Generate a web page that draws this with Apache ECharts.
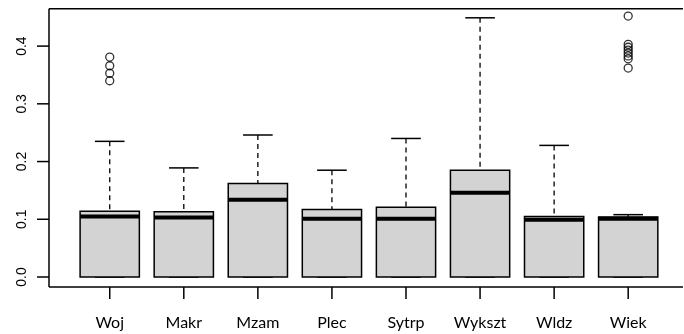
<!DOCTYPE html>
<html>
<head>
<meta charset="utf-8">
<script src="https://cdn.jsdelivr.net/npm/echarts@6/dist/echarts.min.js"></script>
<style>html,body{margin:0;padding:0;background:#fff}#c{width:684px;height:334px}</style>
</head>
<body>
<div id="c"></div>
<script>
const categories = ['Woj', 'Makr', 'Mzam', 'Plec', 'Sytrp', 'Wykszt', 'Wldz', 'Wiek'];
const lowerWhisker = [0, 0, 0, 0, 0, 0, 0, 0];
const q1 = [0, 0, 0, 0, 0, 0, 0, 0];
const medians = [0.105, 0.103, 0.134, 0.101, 0.101, 0.146, 0.099, 0.101];
const q3 = [0.114, 0.113, 0.162, 0.117, 0.121, 0.185, 0.105, 0.104];
const upperWhisker = [0.235, 0.189, 0.246, 0.185, 0.240, 0.449, 0.228, 0.108];
const outliers = [
  [0.381, 0.366, 0.353, 0.340],
  [], [], [], [], [], [],
  [0.452, 0.403, 0.398, 0.393, 0.388, 0.383, 0.378, 0.362]
];
const yTicks = [0, 0.1, 0.2, 0.3, 0.4];
const xTicks = [1, 2, 3, 4, 5, 6, 7, 8];

// axis extents (outer range includes the tick-mark zone); plot box edges
const X_MIN = 0.018, X_MAX = 8.740, Y_MIN = -0.0381, Y_MAX = 0.466;
const BOX_X0 = 0.18, BOX_Y0 = -0.0173;

const boxData = categories.map((c, i) => [i + 1, lowerWhisker[i], q1[i], medians[i], q3[i], upperWhisker[i]]);
const outData = [];
outliers.forEach((arr, i) => arr.forEach(v => outData.push([i + 1, v])));

const S = { stroke: '#000', lineWidth: 1.5 };
const chart = echarts.init(document.getElementById('c'));
chart.setOption({
  animation: false,
  grid: { left: 37, top: 8, width: 646, height: 291 },
  xAxis: {
    type: 'value', min: X_MIN, max: X_MAX,
    splitLine: { show: false },
    axisLine: { show: false },
    axisTick: { show: false },
    axisLabel: {
      customValues: xTicks.slice(),
      formatter: function (v) { return categories[Math.round(v) - 1] || ''; },
      margin: 16, fontFamily: 'Lato', fontSize: 16, color: '#000'
    }
  },
  yAxis: {
    type: 'value', min: Y_MIN, max: Y_MAX,
    splitLine: { show: false },
    axisLine: { show: false },
    axisTick: { show: false },
    axisLabel: {
      customValues: yTicks.slice(),
      formatter: function (v) { return v.toFixed(1); },
      rotate: 90, margin: 8, fontFamily: 'Liberation Sans', fontSize: 14, color: '#000'
    }
  },
  series: [
    {
      // plot frame: bottom, left, top
      type: 'custom', silent: true, z: 10,
      data: [[BOX_X0, BOX_Y0]],
      encode: { x: 0, y: 1 },
      renderItem: function (params, api) {
        const bl = api.coord([BOX_X0, BOX_Y0]);
        const br = api.coord([X_MAX, BOX_Y0]);
        const tl = api.coord([BOX_X0, Y_MAX]);
        const tr = api.coord([X_MAX, Y_MAX]);
        return { type: 'group', children: [
          { type: 'line', shape: { x1: bl[0], y1: bl[1], x2: br[0], y2: br[1] }, style: S },
          { type: 'line', shape: { x1: bl[0], y1: bl[1], x2: tl[0], y2: tl[1] + 0.75 }, style: S },
          { type: 'line', shape: { x1: tl[0], y1: tl[1] + 0.75, x2: tr[0], y2: tr[1] + 0.75 }, style: S }
        ] };
      }
    },
    {
      type: 'custom', silent: true, z: 10,
      data: yTicks.map(v => [X_MIN, v]),
      encode: { x: 0, y: 1 },
      renderItem: function (params, api) {
        const a = api.coord([X_MIN, api.value(1)]);
        const b = api.coord([BOX_X0, api.value(1)]);
        return { type: 'line', shape: { x1: a[0], y1: a[1], x2: b[0], y2: b[1] }, style: S };
      }
    },
    {
      type: 'custom', silent: true, z: 10,
      data: xTicks.map(v => [v, Y_MIN]),
      encode: { x: 0, y: 1 },
      renderItem: function (params, api) {
        const a = api.coord([api.value(0), BOX_Y0]);
        const b = api.coord([api.value(0), Y_MIN]);
        return { type: 'line', shape: { x1: a[0], y1: a[1], x2: b[0], y2: b[1] }, style: S };
      }
    },
    {
      type: 'custom',
      data: boxData,
      encode: { x: 0, y: [1, 2, 3, 4, 5] },
      renderItem: function (params, api) {
        const x = api.value(0);
        const lw = api.coord([x, api.value(1)]);
        const b = api.coord([x, api.value(2)]);
        const m = api.coord([x, api.value(3)]);
        const t = api.coord([x, api.value(4)]);
        const hw = api.coord([x, api.value(5)]);
        const w = api.size([0.8, 0])[0];
        const cw = api.size([0.4, 0])[0];
        const cx = b[0];
        return {
          type: 'group',
          children: [
            { type: 'line', shape: { x1: cx, y1: hw[1], x2: cx, y2: t[1] }, style: { stroke: '#000', lineWidth: 1.3, lineDash: [5, 4] } },
            { type: 'line', shape: { x1: cx - cw / 2, y1: hw[1], x2: cx + cw / 2, y2: hw[1] }, style: S },
            { type: 'line', shape: { x1: cx - cw / 2, y1: lw[1], x2: cx + cw / 2, y2: lw[1] }, style: S },
            { type: 'rect', shape: { x: cx - w / 2, y: t[1], width: w, height: b[1] - t[1] }, style: { fill: '#d3d3d3', stroke: '#000', lineWidth: 1.5 } },
            { type: 'line', shape: { x1: cx - w / 2, y1: m[1], x2: cx + w / 2, y2: m[1] }, style: { stroke: '#000', lineWidth: 4 } }
          ]
        };
      }
    },
    {
      type: 'scatter',
      data: outData,
      symbol: 'circle',
      symbolSize: 8,
      itemStyle: { color: 'rgba(0,0,0,0)', borderColor: '#000', borderWidth: 1.3 }
    }
  ]
});
</script>
</body>
</html>
